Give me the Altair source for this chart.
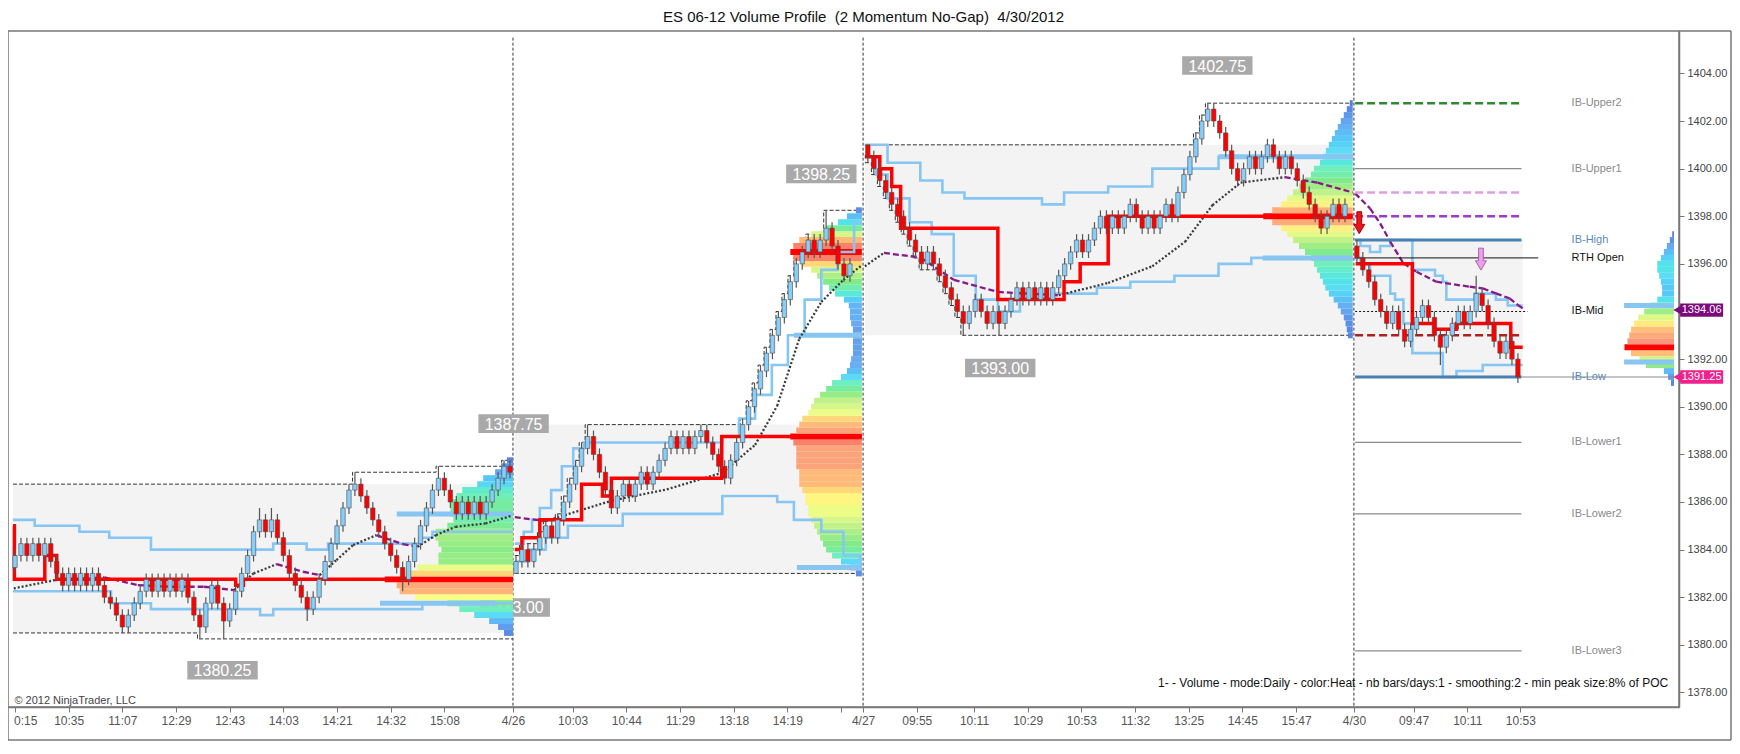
import json
import altair as alt
import pandas as pd

TITLE = "ES 06-12 Volume Profile \u00a0(2 Momentum No-Gap) \u00a04/30/2012"

# ---------------- axes ----------------
TICK_K = [0, 9, 18, 27, 36, 45, 54, 63, 72, 83.5, 93.5, 102.5, 111.5, 120.5, 129.5, 138.5,
          142.2, 151.2, 160.8, 169.8, 178.8, 187.8, 196.8, 205.8, 214.8, 224.5, 234.5, 243.5, 252.4]
TICK_LABEL = ["0:15", "10:35", "11:07", "12:29", "12:43", "14:03", "14:21", "14:32", "15:08",
              "4/26", "10:03", "10:44", "11:29", "13:18", "14:19", "",
              "4/27", "09:55", "10:11", "10:29", "10:53", "11:32", "13:25", "14:45", "15:47",
              "4/30", "09:47", "10:11", "10:53"]
# 1394.00 is hidden under the 1394.06 price tag
Y_TICKS = [1378, 1380, 1382, 1384, 1386, 1388, 1390, 1392, 1396, 1398, 1400, 1402, 1404]

# ---------------- candles (2 momentum bars) ----------------
SESSION_START = [0, 84, 143, 225]
SESSION_OPEN = [1383.25, 1383.0, 1401.0, 1396.75]
S1_CLOSE = [
    1383.75, 1384.25, 1383.75, 1384.25, 1383.75, 1384.25, 1383.5, 1383.0, 1382.5, 1383.0,
    1382.5, 1383.0, 1382.5, 1383.0, 1382.5, 1382.0, 1381.75, 1381.25, 1380.75, 1381.25,
    1381.75, 1382.25, 1382.75, 1382.25, 1382.75, 1382.25, 1382.75, 1382.25, 1382.75, 1382.0,
    1381.25, 1380.75, 1381.75, 1382.5, 1381.75, 1381.0, 1381.5, 1382.25, 1383.0, 1383.75,
    1384.75, 1385.25, 1384.75, 1385.25, 1384.5, 1383.75, 1383.0, 1382.5, 1382.0, 1381.5,
    1382.0, 1382.75, 1383.5, 1384.25, 1385.0, 1385.75, 1386.5, 1386.75, 1386.25, 1385.75,
    1385.25, 1384.75, 1384.25, 1383.75, 1383.25, 1382.75, 1383.5, 1384.25, 1385.0, 1385.75,
    1386.5, 1387.0, 1386.5, 1386.0, 1385.5, 1386.0, 1385.5, 1386.0, 1385.5, 1386.0,
    1386.5, 1387.0, 1387.5, 1387.25,
]
S2_CLOSE = [
    1383.5, 1384.0, 1383.5, 1384.0, 1384.5, 1385.0, 1384.5, 1385.25, 1386.0, 1386.75,
    1387.5, 1388.25, 1388.75, 1388.0, 1387.25, 1386.5, 1385.75, 1386.25, 1386.75, 1386.25,
    1386.75, 1387.25, 1386.75, 1387.25, 1387.75, 1388.25, 1388.75, 1388.25, 1388.75, 1388.25,
    1388.75, 1389.0, 1388.5, 1388.0, 1387.5, 1387.0, 1387.75, 1388.5, 1389.25, 1390.0,
    1390.75, 1391.5, 1392.25, 1393.0, 1393.75, 1394.5, 1395.25, 1396.0, 1396.5, 1397.0,
    1396.5, 1397.0, 1397.5, 1396.75, 1396.0, 1395.5, 1396.0,
]
S3_CLOSE = [
    1400.5, 1400.0, 1399.5, 1399.0, 1398.5, 1398.0, 1397.5, 1397.0, 1396.5, 1396.0,
    1396.5, 1396.0, 1395.5, 1395.0, 1394.5, 1394.0, 1393.5, 1394.0, 1394.5, 1394.0,
    1393.5, 1394.0, 1393.5, 1394.0, 1394.5, 1395.0, 1394.5, 1395.0, 1394.5, 1395.0,
    1394.5, 1395.0, 1395.5, 1396.0, 1396.5, 1397.0, 1396.5, 1397.0, 1397.5, 1398.0,
    1397.5, 1398.0, 1397.5, 1398.0, 1398.5, 1398.0, 1397.5, 1398.0, 1397.5, 1398.0,
    1398.5, 1398.0, 1399.0, 1399.75, 1400.5, 1401.25, 1402.0, 1402.5, 1402.0, 1401.5,
    1400.75, 1400.0, 1399.5, 1400.0, 1400.5, 1400.0, 1400.5, 1401.0, 1400.5, 1400.0,
    1400.5, 1400.0, 1399.5, 1399.0, 1398.5, 1398.0, 1397.5, 1398.0, 1398.5, 1398.0,
    1398.5,
]
S4_CLOSE = [
    1396.25, 1395.75, 1395.25, 1394.5, 1394.0, 1393.5, 1394.0, 1393.25, 1392.75, 1393.25,
    1393.75, 1394.25, 1393.75, 1393.0, 1392.5, 1393.0, 1393.5, 1394.0, 1393.5, 1394.0,
    1394.75, 1394.25, 1393.5, 1392.75, 1392.25, 1392.75, 1392.0, 1391.25,
]
HIGH_OVERRIDE = {41: 1385.75, 43: 1385.75, 57: 1387.25, 71: 1387.5, 82: 1387.75, 96: 1389.25,
                 136: 1398.25, 143: 1401.0, 200: 1402.75, 225: 1397.0, 245: 1395.5}
LOW_OVERRIDE = {18: 1380.5, 31: 1380.25, 35: 1380.25, 49: 1381.0, 65: 1382.25, 84: 1383.0,
                159: 1393.0, 165: 1393.0, 239: 1391.75, 252: 1391.0}
S1_PRIOR_HILO = (1386.75, 1380.5)

# ---------------- session structure ----------------
SESSION_LEFT = [-0.33, 83.8, 142.5, 224.7]
SESSION_RIGHT = [83.5, 142.0, 224.3, 252.8]
DIVIDER_K = [83.5, 142.2, 224.5]
IB_HIGH = [1386.75, 1389.25, 1401.0, 1397.0]
IB_LOW = [1380.5, 1383.0, 1393.0, 1391.25]

POC_STEPS = [
    [(-0.33, 1385.0), (-0.1, 1382.75), (5.0, 1383.75), (7.0, 1382.75), (37.0, 1382.5), (38.3, 1382.75)],
    [(83.8, 1384.0), (85.0, 1384.5), (88.0, 1385.25), (95.0, 1386.75), (98.5, 1386.25), (100.0, 1387.0),
     (118.5, 1388.75)],
    [(142.5, 1400.5), (145.0, 1400.0), (147.0, 1399.25), (148.5, 1397.5), (164.8, 1394.5), (175.9, 1395.25),
     (178.6, 1396.0), (183.3, 1398.0)],
    [(224.8, 1396.0), (234.3, 1393.5), (238.0, 1393.25), (241.7, 1393.5), (250.8, 1392.5)],
]
BAND_STEPS = [
    [(-0.33, 1385.25), (3.3, 1385.0), (10.8, 1384.75), (15.8, 1384.5), (22.8, 1384.0), (43.3, 1384.25),
     (48.9, 1384.0), (52.5, 1384.25), (67.8, 1384.5), (70.0, 1384.75)],
    [(-0.33, 1382.25), (16.1, 1381.75), (22.8, 1381.5), (41.1, 1381.25), (43.3, 1381.5), (68.3, 1381.75)],
    [(83.8, 1384.25), (85.3, 1384.75), (86.7, 1385.25), (88.0, 1385.75), (89.9, 1386.5), (91.7, 1387.5),
     (93.6, 1388.25), (95.4, 1388.5), (118.6, 1388.75), (121.4, 1389.5), (124.1, 1390.5), (126.9, 1391.75),
     (129.6, 1393.0), (132.4, 1394.5), (135.2, 1395.75), (137.9, 1396.5), (140.7, 1397.75)],
    [(83.8, 1383.5), (86.2, 1384.0), (89.0, 1384.5), (92.7, 1385.0), (101.9, 1385.5), (118.6, 1386.25),
     (127.8, 1386.0), (130.6, 1385.25), (135.2, 1384.75), (138.9, 1383.75), (141.7, 1383.25)],
    [(142.5, 1401.0), (146.3, 1400.25), (151.8, 1399.5), (155.5, 1399.0), (159.2, 1398.75), (172.2, 1398.5),
     (175.9, 1399.0), (183.3, 1399.25), (190.7, 1400.0), (201.8, 1400.5)],
    [(142.5, 1400.5), (144.4, 1399.75), (146.3, 1398.75), (150.0, 1397.75), (153.7, 1397.25), (157.4, 1395.5),
     (161.1, 1394.5), (164.8, 1394.0), (168.5, 1394.5), (174.0, 1394.75), (181.4, 1395.0), (187.0, 1395.25),
     (194.4, 1395.5), (201.8, 1396.0), (207.3, 1396.25)],
    [(224.7, 1397.0), (225.6, 1396.75), (227.2, 1396.5), (228.9, 1396.75), (230.6, 1397.0), (234.3, 1395.75),
     (238.1, 1395.5), (239.4, 1395.25), (240.0, 1394.5), (244.7, 1394.75), (248.3, 1394.5), (250.3, 1394.25)],
    [(224.7, 1396.25), (225.6, 1396.0), (227.2, 1395.5), (230.6, 1394.75), (231.4, 1394.5), (232.8, 1393.5),
     (234.3, 1392.25), (239.4, 1391.25), (241.7, 1391.5), (246.1, 1391.75)],
]
BAND_SESSION = [0, 0, 1, 1, 2, 2, 3, 3]

# moving average: (bar, value, style of the following segment)
MA_POINTS = [
    [(-0.2, 1382.37, "g"), (6.7, 1382.72, "g"), (15.0, 1382.83, "p"), (20.6, 1382.51, "p"), (26.1, 1382.44, "p"),
     (31.7, 1382.44, "p"), (36.7, 1382.3, "g"), (40.0, 1383.0, "g"), (43.9, 1383.39, "p"), (48.3, 1383.07, "p"),
     (51.1, 1382.93, "g"), (53.9, 1383.56, "g"), (56.7, 1384.19, "g"), (60.6, 1384.61, "p"), (65.0, 1384.23, "p"),
     (67.5, 1384.12, "g"), (70.6, 1384.61, "g"), (73.9, 1384.96, "g"), (78.9, 1385.1, "g"), (83.3, 1385.42, "g")],
    [(83.8, 1385.36, "p"), (89.0, 1385.2, "g"), (100.1, 1386.06, "g"), (109.3, 1386.53, "g"), (118.6, 1387.23, "g"),
     (124.1, 1388.4, "g"), (127.8, 1390.04, "g"), (131.5, 1392.85, "g"), (135.2, 1394.4, "g"), (138.9, 1395.33, "g"),
     (141.8, 1395.9, "g")],
    [(142.5, 1395.9, "g"), (145.7, 1396.46, "p"), (151.8, 1396.27, "p"), (157.4, 1395.33, "p"), (164.8, 1394.82, "p"),
     (175.0, 1394.68, "g"), (183.3, 1395.2, "g"), (190.7, 1395.9, "g"), (196.2, 1396.93, "g"), (200.8, 1398.47, "g"),
     (205.5, 1399.41, "g"), (212.9, 1399.64, "p"), (218.4, 1399.41, "p"), (224.3, 1399.0, "p")],
    [(224.7, 1398.96, "p"), (227.2, 1398.33, "p"), (228.9, 1397.7, "p"), (230.6, 1396.93, "p"), (232.8, 1396.02, "p"),
     (235.0, 1395.67, "p"), (238.3, 1395.25, "p"), (243.9, 1395.04, "p"), (246.1, 1394.97, "p"), (248.3, 1394.76, "p"),
     (250.6, 1394.55, "p"), (252.0, 1394.27, "p"), (252.8, 1394.13, "p")],
]

# ---------------- volume profiles (width in bars, per 0.25 level) ----------------
PROFILE_BASE = [1380.5, 1383.0, 1393.0, 1391.0]
PROFILE_ANCHOR = [83.5, 142.0, 224.3, 278.17]
S1_PROFILE = [1.5, 2.5, 4.0, 6.5, 9.0, 11.0, 16.5, 19.0, 19.5, 21.5,
              18.0, 16.0, 12.5, 12.5, 12.0, 12.5, 13.0, 13.0, 11.0, 10.0,
              10.5, 10.5, 10.5, 9.5, 8.5, 6.0, 5.0, 3.0, 2.0, 1.0]
S2_PROFILE = [1.0, 2.0, 3.5, 5.0, 6.0, 6.5, 7.0, 7.5, 8.0, 8.5,
              9.0, 9.0, 9.5, 9.5, 10.0, 10.5, 10.5, 10.5, 11.0, 11.0,
              11.0, 11.0, 11.5, 12.0, 11.0, 10.5, 10.0, 9.0, 8.5, 8.0,
              7.0, 6.0, 5.0, 3.5, 2.5, 2.0, 1.8, 1.5, 1.5, 1.5,
              1.5, 1.5, 1.8, 2.0, 2.0, 2.2, 3.0, 4.5, 5.5, 6.5,
              7.5, 8.5, 10.0, 11.5, 12.0, 11.5, 10.5, 8.5, 6.0, 4.0,
              2.5, 1.0]
S3_PROFILE = [0.8, 1.0, 1.2, 1.5, 2.0, 2.5, 3.2, 4.0, 4.6, 5.0,
              5.5, 6.0, 6.5, 7.0, 8.0, 9.0, 10.0, 11.0, 12.0, 13.5,
              15.0, 13.5, 12.0, 11.0, 10.0, 9.0, 8.0, 7.0, 6.5, 5.5,
              5.0, 4.5, 4.0, 3.5, 3.0, 2.5, 2.0, 1.5, 1.0, 0.5]
S4_PROFILE = [0.5, 1.0, 1.7, 4.7, 5.8, 7.2, 8.3, 7.8, 7.5, 7.2, 6.7, 6.0, 5.0, 4.0, 2.8, 2.0,
              2.0, 2.2, 2.5, 2.8, 2.8, 2.2, 1.7, 1.2, 0.7, 0.3]
PROFILES = [S1_PROFILE, S2_PROFILE, S3_PROFILE, S4_PROFILE]
HEAT_STOPS = [0, 0.15, 0.3, 0.42, 0.55, 0.68, 0.78, 0.87, 0.95, 1.0]
HEAT_COLORS = ["#5470d8", "#6aaaf0", "#5ddcf5", "#70eec0", "#85e985", "#c6f38a", "#ffff85",
               "#ffbd78", "#f6917c", "#ff0000"]

# value-area markers
VA_K1 = [64.0, 61.2, 130.6, 131.1, 201.8, 209.2, 269.8, 269.8]
VA_K2 = [83.5, 80.6, 142.0, 142.0, 224.3, 224.3, 278.17, 278.17]
VA_P = [1385.5, 1381.75, 1393.0, 1383.25, 1400.5, 1396.25, 1394.25, 1391.875]

# ---------------- 4/30 levels ----------------
LEVEL_ID = ["up2", "up1", "pink", "purple", "ibh", "rth", "mid", "red", "ibl", "ibl2", "lo1", "lo2", "lo3"]
LEVEL_P = [1402.75, 1400.0, 1399.0, 1398.0, 1397.0, 1396.25, 1394.0, 1393.0, 1391.25, 1391.25,
           1388.5, 1385.5, 1379.75]
LEVEL_COLOR = ["#2f8a2f", "#8a8a8a", "#dda0dd", "#9a3ccc", "#4a7fb2", "#111111", "#111111", "#b01e1e",
               "#4a7fb2", "#8a8a8a", "#8a8a8a", "#8a8a8a", "#8a8a8a"]
LEVEL_TEXT = ["IB-Upper2", "IB-Upper1", "IB-High", "RTH Open", "IB-Mid", "IB-Low", "IB-Lower1",
              "IB-Lower2", "IB-Lower3"]
LEVEL_TEXT_P = [1402.75, 1400.0, 1397.0, 1396.25, 1394.0, 1391.25, 1388.5, 1385.5, 1379.75]
LEVEL_TEXT_COLOR = ["#8a8a8a", "#8a8a8a", "#5b88b8", "#111111", "#111111", "#5b88b8", "#8a8a8a",
                    "#8a8a8a", "#8a8a8a"]

# price boxes
BOX_TEXT = ["1380.25", "1383.00", "1387.75", "1398.25", "1393.00", "1402.75"]
BOX_K = [34.8, 83.8, 83.6, 135.2, 165.2, 201.6]
BOX_P = [1378.93, 1381.57, 1389.29, 1399.78, 1391.63, 1404.33]

TAG_TEXT = ["1394.06", "1391.25"]
TAG_P = [1394.06, 1391.25]
TAG_COLOR = ["#7d0a7d", "#f0208c"]

ARROW_K = [225.4, 245.8]
ARROW_P = [1397.73, 1396.2]
ARROW_FILL = ["#e8141e", "#e8a0e6"]
ARROW_STROKE = ["#b00000", "#b060b0"]

COPYRIGHT = "\u00a9 2012 NinjaTrader, LLC"
INFO = "1-  - Volume - mode:Daily - color:Heat - nb bars/days:1 - smoothing:2 - min peak size:8% of POC"

# ---------------- build tables ----------------
WICK = 0.25
TICK = 0.25
YMIN, YMAX = 1377.39, 1405.78
XMIN, XMAX = -0.333, 278.17
W, H = 1671, 676

candles = []
for start, op, closes in zip(SESSION_START, SESSION_OPEN, [S1_CLOSE, S2_CLOSE, S3_CLOSE, S4_CLOSE]):
    prev = op
    for j, c in enumerate(closes):
        k = start + j
        hi = HIGH_OVERRIDE.get(k, max(prev, c) + WICK)
        lo = LOW_OVERRIDE.get(k, min(prev, c) - WICK)
        candles.append(dict(k=k, o=prev, c=c, hi=hi, lo=lo, dir="up" if c > prev else "down"))
        prev = c
cdf = pd.DataFrame(candles)

# developing session high / low (dashed)
hilo = []
for s in range(3):
    sub = cdf[(cdf.k >= SESSION_START[s]) & (cdf.k < SESSION_START[s + 1])]
    if s == 0:
        h, l = S1_PRIOR_HILO
    else:
        h, l = sub.hi.iloc[0], sub.lo.iloc[0]
    hp = [(SESSION_LEFT[s], h)]
    lp = [(SESSION_LEFT[s], l)]
    for _, r in sub.iterrows():
        if r.hi > h:
            h = r.hi
            hp.append((r.k - 0.4, h))
        if r.lo < l:
            l = r.lo
            lp.append((r.k - 0.4, l))
    hp.append((SESSION_RIGHT[s], h))
    lp.append((SESSION_RIGHT[s], l))
    for i, (k, p) in enumerate(hp):
        hilo.append(dict(g=f"h{s}", k=k, p=p, i=i))
    for i, (k, p) in enumerate(lp):
        hilo.append(dict(g=f"l{s}", k=k, p=p, i=i))
hdf = pd.DataFrame(hilo)


def steps(series, ends):
    rows = []
    for gi, (pts, end) in enumerate(zip(series, ends)):
        for i, (k, p) in enumerate(pts):
            rows.append(dict(g=gi, k=k, p=p, i=i))
        rows.append(dict(g=gi, k=end, p=pts[-1][1], i=len(pts)))
    return pd.DataFrame(rows)


pocdf = steps(POC_STEPS, SESSION_RIGHT)
banddf = steps(BAND_STEPS, [SESSION_RIGHT[s] for s in BAND_SESSION])

ma_rows = []
seg = 0
for pts in MA_POINTS:
    for i in range(len(pts) - 1):
        k0, v0, st = pts[i]
        k1, v1, _ = pts[i + 1]
        ma_rows.append(dict(seg=seg, k=k0, p=v0, st=st, i=0))
        ma_rows.append(dict(seg=seg, k=k1, p=v1, st=st, i=1))
        seg += 1
madf = pd.DataFrame(ma_rows)

prof = []
for base, anchor, widths in zip(PROFILE_BASE, PROFILE_ANCHOR, PROFILES):
    top = max(widths)
    for j, w in enumerate(widths):
        lvl = base + j * TICK
        prof.append(dict(x1=anchor - w, x2=anchor, y1=lvl - TICK / 2, y2=lvl + TICK / 2, frac=w / top))
profdf = pd.DataFrame(prof)

ibdf = pd.DataFrame(dict(x1=SESSION_LEFT, x2=SESSION_RIGHT, y1=IB_LOW, y2=IB_HIGH))
divdf = pd.DataFrame(dict(k=DIVIDER_K, top=[1405.5] * 3, bot=[YMIN] * 3))
vadf = pd.DataFrame(dict(x1=VA_K1, x2=VA_K2, p=VA_P))

S4L, S4R = 224.7, 252.6
lx1 = [S4L] * len(LEVEL_ID)
lx2 = [S4R] * len(LEVEL_ID)
lx2[LEVEL_ID.index("rth")] = 255.4
lx2[LEVEL_ID.index("mid")] = 253.6
lx1[LEVEL_ID.index("ibl2")] = S4R
lx2[LEVEL_ID.index("ibl2")] = XMAX
LEVEL_DASH = [[8, 4], [], [8, 4], [8, 4], [], [], [2, 2], [8, 4], [], [], [], [], []]
LEVEL_W = [2.5, 1.2, 2.5, 2.5, 3.0, 1.0, 1.0, 2.5, 3.0, 1.2, 1.2, 1.2, 1.2]
ltxtdf = pd.DataFrame(dict(t=LEVEL_TEXT, p=LEVEL_TEXT_P, c=LEVEL_TEXT_COLOR, k=[261.0] * len(LEVEL_TEXT)))

BHW, BHH = 5.9, 0.39
boxdf = pd.DataFrame(dict(t=BOX_TEXT, k=BOX_K, p=BOX_P))
boxdf["x1"] = boxdf.k - BHW
boxdf["x2"] = boxdf.k + BHW
boxdf["y1"] = boxdf.p - BHH
boxdf["y2"] = boxdf.p + BHH

tagdf = pd.DataFrame(dict(t=TAG_TEXT, p=TAG_P, c=TAG_COLOR))
tagdf["x1"] = 279.2
tagdf["x2"] = 286.4
tagdf["xm"] = 282.8
tagdf["xt"] = 278.75
tagdf["y1"] = tagdf.p - 0.28
tagdf["y2"] = tagdf.p + 0.28

arrdf = pd.DataFrame(dict(k=ARROW_K, p=ARROW_P, f=ARROW_FILL, s=ARROW_STROKE))
ARROW_SHAPE = "M-0.22,-1 L0.22,-1 L0.22,0.15 L0.5,0.15 L0,1 L-0.5,0.15 L-0.22,0.15 Z"

notedf = pd.DataFrame(dict(t=[COPYRIGHT, INFO], k=[-0.1, 277.2], p=[1377.64, 1378.38]))

# first tick label is drawn left-aligned so it is not cut by the left edge
firstdf = pd.DataFrame(dict(t=[TICK_LABEL[0]], k=[XMIN], p=[YMIN - 13.5 / 23.81]))
axis_labels = [""] + TICK_LABEL[1:]

# ---------------- encodings ----------------
XS = alt.Scale(domain=[XMIN, XMAX], nice=False, zero=False)
YS = alt.Scale(domain=[YMIN, YMAX], nice=False, zero=False)
NARROW = "Liberation Sans Narrow, Arial Narrow, Liberation Sans, sans-serif"
SANS = "Liberation Sans, Arial, sans-serif"

label_expr = f"{json.dumps(axis_labels)}[indexof({json.dumps(TICK_K)}, datum.value)]"
XAXIS = alt.Axis(values=TICK_K, labelExpr=label_expr, grid=False, title=None, domainColor="#777",
                 domainWidth=1.5, tickColor="#777", tickSize=5, labelColor="#555", labelFont=NARROW,
                 labelFontSize=12, labelPadding=3, labelOverlap=False)
YAXIS = alt.Axis(orient="right", values=Y_TICKS, format=".2f", grid=False, title=None, domainColor="#777",
                 domainWidth=1.5, tickColor="#777", tickSize=5, labelColor="#444", labelFont=SANS,
                 labelFontSize=11, labelPadding=3, labelOverlap=False)


def X(f="k"):
    return alt.X(f"{f}:Q", scale=XS, axis=XAXIS)


def Y(f="p"):
    return alt.Y(f"{f}:Q", scale=YS, axis=YAXIS)


layers = []
layers.append(alt.Chart(ibdf).mark_rect(color="#f3f3f3").encode(
    x=X("x1"), x2="x2", y=Y("y1"), y2="y2"))
layers.append(alt.Chart(divdf).mark_rule(color="#333", strokeWidth=1, strokeDash=[3, 2]).encode(
    x=X("k"), y=Y("top"), y2="bot"))
layers.append(alt.Chart(hdf).mark_line(interpolate="step-after", color="#333", strokeWidth=1,
                                       strokeDash=[4, 2]).encode(
    x=X("k"), y=Y("p"), detail="g:N", order="i:Q"))
layers.append(alt.Chart(boxdf).mark_rect(color="#a9a9a9").encode(
    x=X("x1"), x2="x2", y=Y("y1"), y2="y2"))
layers.append(alt.Chart(boxdf).mark_text(color="white", font=NARROW, fontSize=16, baseline="middle",
                                         align="center", dy=1).encode(x=X("k"), y=Y("p"), text="t:N"))
layers.append(alt.Chart(profdf).mark_rect().encode(
    x=X("x1"), x2="x2", y=Y("y1"), y2="y2",
    color=alt.Color("frac:Q", scale=alt.Scale(domain=HEAT_STOPS, range=HEAT_COLORS), legend=None)))
layers.append(alt.Chart(vadf).mark_rule(color="#87c6f2", strokeWidth=5).encode(
    x=X("x1"), x2="x2", y=Y("p")))
layers.append(alt.Chart(banddf).mark_line(interpolate="step-after", color="#87c6f2", strokeWidth=2.6).encode(
    x=X("k"), y=Y("p"), detail="g:N", order="i:Q"))
for st, col, dash in [("g", "#3a3a3a", [2, 2]), ("p", "#861a86", [6, 3])]:
    layers.append(alt.Chart(madf[madf.st == st]).mark_line(strokeWidth=2.3, color=col, strokeDash=dash).encode(
        x=X("k"), y=Y("p"), detail="seg:N", order="i:Q"))
layers.append(alt.Chart(pocdf).mark_line(interpolate="step-after", color="#ff0000", strokeWidth=3.5).encode(
    x=X("k"), y=Y("p"), detail="g:N", order="i:Q"))
for lid, lp, c, d, w, a, b in zip(LEVEL_ID, LEVEL_P, LEVEL_COLOR, LEVEL_DASH, LEVEL_W, lx1, lx2):
    props = dict(color=c, strokeWidth=w)
    if d:
        props["strokeDash"] = d
    layers.append(alt.Chart(pd.DataFrame(dict(p=[lp], x1=[a], x2=[b]))).mark_rule(**props).encode(
        x=X("x1"), x2="x2", y=Y("p")))
layers.append(alt.Chart(cdf).mark_rule(color="#555", strokeWidth=1.2).encode(
    x=X("k"), y=Y("lo"), y2="hi"))
layers.append(alt.Chart(cdf).mark_bar(width=4.4, stroke="#4a4a4a", strokeWidth=0.6).encode(
    x=X("k"), y=Y("o"), y2="c",
    color=alt.Color("dir:N", scale=alt.Scale(domain=["up", "down"], range=["#87cefa", "#ff0000"]), legend=None)))
layers.append(alt.Chart(arrdf).mark_point(shape=ARROW_SHAPE, filled=True, size=480, strokeWidth=1, opacity=1).encode(
    x=X("k"), y=Y("p"), fill=alt.Color("f:N", scale=None), stroke=alt.Color("s:N", scale=None)))
layers.append(alt.Chart(ltxtdf).mark_text(align="left", baseline="middle", font=SANS, fontSize=11).encode(
    x=X("k"), y=Y("p"), text="t:N", color=alt.Color("c:N", scale=None)))
layers.append(alt.Chart(tagdf).mark_rect().encode(
    x=X("x1"), x2="x2", y=Y("y1"), y2="y2", color=alt.Color("c:N", scale=None)))
layers.append(alt.Chart(tagdf).mark_point(shape="triangle-left", filled=True, size=90, opacity=1).encode(
    x=X("xt"), y=Y("p"), color=alt.Color("c:N", scale=None)))
layers.append(alt.Chart(tagdf).mark_text(color="white", font=SANS, fontSize=11, baseline="middle").encode(
    x=X("xm"), y=Y("p"), text="t:N"))
layers.append(alt.Chart(notedf.iloc[[0]]).mark_text(align="left", baseline="middle", font=NARROW,
                                                     fontSize=11, color="#444").encode(
    x=X("k"), y=Y("p"), text="t:N"))
layers.append(alt.Chart(notedf.iloc[[1]]).mark_text(align="right", baseline="middle", font=NARROW,
                                                     fontSize=12, color="#111").encode(
    x=X("k"), y=Y("p"), text="t:N"))
layers.append(alt.Chart(firstdf).mark_text(align="left", baseline="middle", font=NARROW, fontSize=12,
                                           color="#555", dx=1).encode(
    x=X("k"), y=Y("p"), text="t:N"))

frame = pd.DataFrame(dict(a=[0]))
FR = dict(color="#777", strokeWidth=1.5)
layers.append(alt.Chart(frame).mark_rule(**FR).encode(x=alt.value(W), x2=alt.value(W + 52), y=alt.value(0)))
layers.append(alt.Chart(frame).mark_rule(**FR).encode(x=alt.value(W + 52), y=alt.value(0), y2=alt.value(H + 33)))
layers.append(alt.Chart(frame).mark_rule(**FR).encode(x=alt.value(0), x2=alt.value(W + 52), y=alt.value(H + 33)))
layers.append(alt.Chart(frame).mark_rule(**FR).encode(x=alt.value(0), y=alt.value(H), y2=alt.value(H + 33)))

chart = alt.layer(*layers).properties(
    width=W, height=H,
    title=alt.TitleParams(TITLE, fontSize=15, font=SANS, fontWeight="normal", color="#111",
                          offset=5, dx=20, anchor="middle"),
    autosize=alt.AutoSizeParams(type="none"),
    padding={"left": 0, "top": 23, "right": 53, "bottom": 35},
).configure_view(stroke="#777", strokeWidth=1.5)

chart.save("out.html", embed_options={"renderer": "svg", "actions": False})
